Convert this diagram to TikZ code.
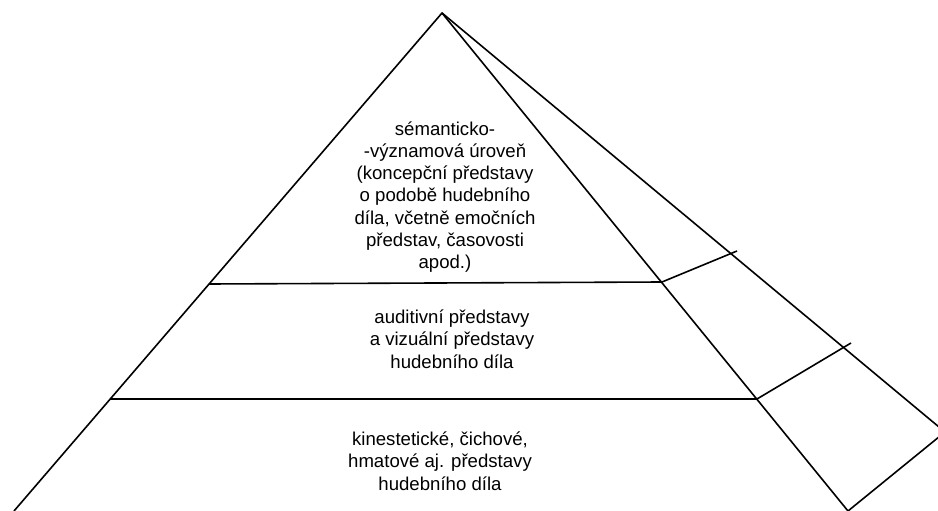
\documentclass[tikz,border=0pt]{standalone}
\usepackage{fontspec}
\setmainfont{Liberation Sans}
\begin{document}
\begin{tikzpicture}[x=1pt,y=-1pt,
  edge/.style={line width=1.6pt,line join=round},
  lbl/.style={align=center,font=\fontsize{18.6}{22.3}\selectfont,inner sep=0pt}]
\useasboundingbox (0,0) rectangle (938,511);
\clip (0,0) rectangle (938,511);
% corners
\coordinate (apex) at (442,13);
\coordinate (bl) at (14,511);
\coordinate (br) at (848,511);
\coordinate (bk) at (945,432);
% divider points
\coordinate (l1) at (209,284);
\coordinate (f1) at (662,282);
\coordinate (k1) at (737,251);
\coordinate (l2) at (110,399);
\coordinate (f2) at (757,399);
\coordinate (k2) at (851,343);
% outline
\draw[edge] (bl) -- (apex) -- (br);
\draw[edge] (apex) -- (bk) -- (br);
% dividers
\draw[edge] (l1) -- (f1) -- (k1);
\draw[edge] (l2) -- (f2) -- (k2);
% labels
\node[lbl] (t1) at (445,197) {sémanticko-\\-významová úroveň\\(koncepční představy\\o podobě hudebního\\díla, včetně emočních\\představ, časovosti\\apod.)};
\node[lbl] (t2) at (452,339) {auditivní představy\\a vizuální představy\\hudebního díla};
\node[lbl] (t3) at (440,461) {kinestetické, čichové,\\hmatové aj. představy\\hudebního díla};
\end{tikzpicture}
\end{document}
